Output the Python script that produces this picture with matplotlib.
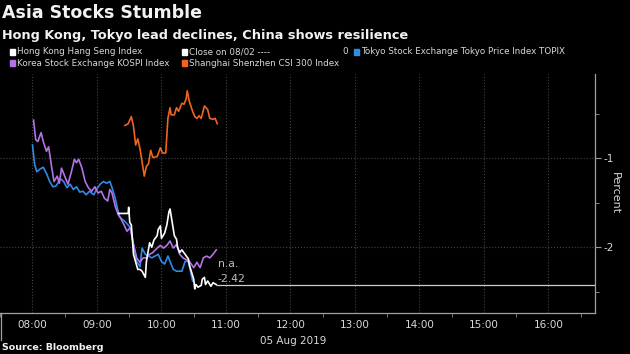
import matplotlib
matplotlib.use('Agg')
import matplotlib.pyplot as plt
from matplotlib.lines import Line2D
from matplotlib.patches import Rectangle
from matplotlib.ticker import FixedLocator, FuncFormatter

# minutes after 08:00 (Hong Kong time), percent change
topix_min = [0, 2, 4, 7, 10, 13, 16, 19, 22, 26, 29, 32, 35, 38, 41, 44, 47, 50, 53, 57,
             60, 63, 66, 69, 72, 74, 77, 79, 81, 86, 91, 94, 97, 100, 102, 105, 108, 111,
             114, 117, 120, 123, 126, 128, 131, 134, 139, 142, 145, 147, 149]
topix_val = [-0.85, -1.07, -1.15, -1.12, -1.10, -1.17, -1.26, -1.32, -1.31, -1.23, -1.26,
             -1.33, -1.29, -1.35, -1.32, -1.38, -1.37, -1.41, -1.37, -1.41, -1.34, -1.29,
             -1.26, -1.28, -1.26, -1.33, -1.45, -1.56, -1.66, -1.71, -1.78, -1.97, -2.16,
             -2.22, -2.01, -2.08, -2.10, -2.12, -2.10, -2.08, -2.16, -2.19, -2.10, -2.16,
             -2.25, -2.27, -2.27, -2.16, -2.16, -2.27, -2.38]

kospi_min = [1, 3, 5, 8, 10, 13, 15, 18, 20, 23, 25, 27, 30, 33, 36, 39, 41, 43, 46, 49,
             52, 55, 58, 61, 64, 67, 70, 72, 74, 77, 80, 81, 84, 88, 91, 94, 97, 100, 103,
             106, 109, 112, 116, 119, 122, 125, 128, 131, 134, 137, 140, 143, 146, 150,
             153, 156, 159, 162, 165, 168, 171]
kospi_val = [-0.57, -0.79, -0.81, -0.71, -0.81, -0.92, -0.87, -1.11, -1.26, -1.20, -1.28,
             -1.11, -1.20, -1.29, -1.16, -1.01, -1.05, -1.01, -1.11, -1.26, -1.33, -1.37,
             -1.32, -1.39, -1.37, -1.45, -1.48, -1.35, -1.39, -1.54, -1.64, -1.65, -1.72,
             -1.82, -1.78, -1.97, -2.12, -2.17, -2.12, -2.12, -2.08, -2.06, -2.01, -1.98,
             -2.01, -1.98, -1.93, -2.01, -1.97, -2.08, -2.12, -2.14, -2.16, -2.23, -2.17,
             -2.23, -2.12, -2.10, -2.12, -2.08, -2.03]

csi_min = [86, 89, 92, 94, 96, 98, 100, 102, 104, 106, 108, 110, 112, 116, 119, 121, 124,
           126, 128, 129, 132, 134, 136, 139, 141, 143, 144, 146, 149, 151, 153, 155, 157,
           160, 163, 165, 168, 170, 172]
csi_val = [-0.63, -0.61, -0.53, -0.64, -0.85, -0.78, -0.89, -1.04, -1.20, -1.09, -1.06,
           -0.91, -0.99, -0.98, -0.88, -0.94, -0.94, -0.55, -0.43, -0.51, -0.51, -0.43,
           -0.47, -0.38, -0.39, -0.33, -0.24, -0.36, -0.47, -0.53, -0.55, -0.52, -0.55,
           -0.41, -0.45, -0.55, -0.56, -0.55, -0.61]

hsi_min = [80, 89, 89.5, 90.5, 92, 93, 94, 97, 98, 100, 102, 105, 106, 109, 111, 113, 116,
           117, 119, 120, 123, 125, 127, 128, 130, 132, 134, 135, 137, 139, 142, 145, 146,
           150, 151, 152, 154, 157, 158, 160, 161, 163, 166, 168, 171]
hsi_val = [-1.62, -1.62, -1.55, -1.72, -1.75, -1.92, -2.08, -2.21, -2.25, -2.25, -2.27,
           -2.34, -2.16, -1.95, -2.00, -1.92, -1.87, -1.80, -1.76, -1.90, -1.84, -1.75,
           -1.60, -1.57, -1.72, -1.87, -1.91, -2.00, -2.06, -2.03, -2.08, -2.13, -2.20,
           -2.36, -2.47, -2.42, -2.45, -2.43, -2.36, -2.34, -2.42, -2.38, -2.44, -2.40,
           -2.42]

prev_close = -2.42
hour_labels = ['08:00', '09:00', '10:00', '11:00', '12:00', '13:00', '14:00', '15:00', '16:00']

BG = '#000000'
FG = '#d9d9d9'
C_HSI = '#ffffff'
C_TOPIX = '#2f8be6'
C_KOSPI = '#b373e6'
C_CSI = '#f0641e'


def h(mins):
    return [8 + m / 60 for m in mins]


def main():
    plt.rcParams['font.family'] = ['DejaVu Sans']
    fig = plt.figure(figsize=(6.3, 3.54), dpi=100, facecolor=BG)
    ax = fig.add_axes([0.0, 0.116, 0.944, 0.675], facecolor=BG)

    ax.plot(h(topix_min), topix_val, color=C_TOPIX, lw=1.2)
    ax.plot(h(kospi_min), kospi_val, color=C_KOSPI, lw=1.2)
    ax.plot(h(csi_min), csi_val, color=C_CSI, lw=1.2)
    ax.plot(h(hsi_min), hsi_val, color=C_HSI, lw=1.2)

    x0, x1 = 7.496, 16.72
    x_last = h([hsi_min[-1]])[0]
    ax.hlines(prev_close, x_last, x1, color='#cfcfcf', lw=0.9)
    ax.text(x_last + 0.02, prev_close + 0.23, 'n.a.', color='#bdbdbd',
            fontsize=7.8, va='center', ha='left')
    ax.text(x_last + 0.02, prev_close + 0.06, '-2.42', color='#bdbdbd',
            fontsize=7.8, va='center', ha='left')

    ax.set_xlim(x0, x1)
    ax.set_ylim(-2.74, -0.05)

    hours = list(range(8, 8 + len(hour_labels)))
    ax.xaxis.set_major_locator(FixedLocator(hours))
    ax.set_xticklabels(hour_labels)
    ax.xaxis.set_minor_locator(FixedLocator([x + 0.5 for x in range(7, 17)]))
    ax.tick_params(axis='x', which='major', length=0, pad=5, labelsize=7.5, labelcolor=FG)
    ax.tick_params(axis='x', which='minor', length=3, color='#888888', direction='out')

    ax.yaxis.tick_right()
    ax.yaxis.set_label_position('right')
    ax.yaxis.set_major_locator(FixedLocator([-2, -1]))
    ax.yaxis.set_minor_locator(FixedLocator([-2.5, -1.5, -0.5]))
    ax.yaxis.set_major_formatter(FuncFormatter(lambda v, p: '%d' % v))
    ax.tick_params(axis='y', which='major', length=4, color='#999999', pad=2,
                   labelsize=7.5, labelcolor=FG)
    ax.tick_params(axis='y', which='minor', length=3, color='#999999')
    ax.set_ylabel('Percent', color=FG, fontsize=8, rotation=-90, labelpad=5)

    ax.grid(True, which='major', color='#444444', ls=':', lw=0.8)
    for s in ['top', 'left']:
        ax.spines[s].set_visible(False)
    for s in ['right', 'bottom']:
        ax.spines[s].set_color('#a0a0a0')
        ax.spines[s].set_linewidth(0.9)

    # date under the axis and a separator at left
    fig.text(293 / 630, 1 - 341 / 354, '05 Aug 2019', color=FG, fontsize=7.5,
             ha='center', va='center')
    fig.add_artist(Line2D([0.5 / 630, 0.5 / 630], [1 - 313 / 354, 1 - 340 / 354],
                          color='#a0a0a0', lw=0.9))

    # titles
    fig.text(2 / 630, 1 - 13 / 354, 'Asia Stocks Stumble', color='#f2f2f2', fontsize=12.5,
             fontweight='bold', ha='left', va='center')
    fig.text(2 / 630, 1 - 35 / 354, 'Hong Kong, Tokyo lead declines, China shows resilience',
             color='#f2f2f2', fontsize=9.3, fontweight='bold', ha='left', va='center')

    # legend
    items = [(10, 52, C_HSI, 'Hong Kong Hang Seng Index'),
             (182, 52, '#ffffff', 'Close on 08/02 ----'),
             (354, 52, C_TOPIX, 'Tokyo Stock Exchange Tokyo Price Index TOPIX'),
             (10, 63, C_KOSPI, 'Korea Stock Exchange KOSPI Index'),
             (182, 63, C_CSI, 'Shanghai Shenzhen CSI 300 Index')]
    for px, py, col, label in items:
        fig.add_artist(Rectangle((px / 630, 1 - (py + 2.5) / 354), 5 / 630, 5 / 354,
                                 color=col, transform=fig.transFigure))
        fig.text((px + 7) / 630, 1 - py / 354, label, color=FG, fontsize=6.3,
                 ha='left', va='center')
    fig.text(342 / 630, 1 - 52 / 354, '0', color=FG, fontsize=6.3, ha='left', va='center')

    fig.text(2 / 630, 1 - 348 / 354, 'Source: Bloomberg', color='#f2f2f2', fontsize=6.8,
             fontweight='bold', ha='left', va='center')

    fig.savefig('out.png', dpi=100, facecolor=BG)


if __name__ == '__main__':
    main()
